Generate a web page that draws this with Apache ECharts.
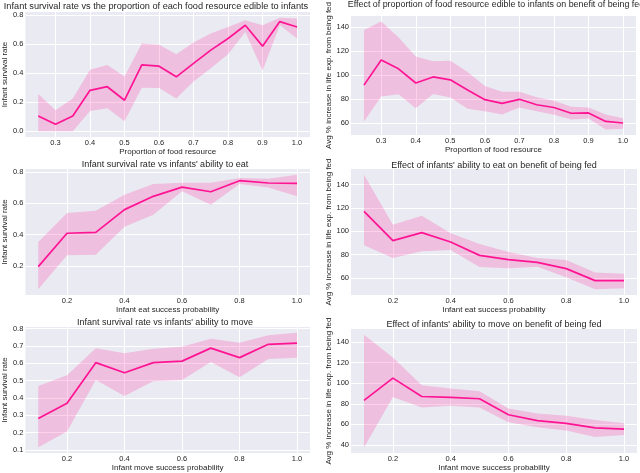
<!DOCTYPE html>
<html>
<head>
    <meta charset="utf-8">
    <script src="https://cdn.jsdelivr.net/npm/echarts@6/dist/echarts.min.js"></script>
    <style>
        html, body { margin: 0; padding: 0; background: #fff; }
    </style>
</head>
<body>
<div id="main" style="width: 640px;height:473px;"></div>
<script>
    // x values
    var foodX = [0.25, 0.3, 0.35, 0.4, 0.45, 0.5, 0.55, 0.6, 0.65, 0.7, 0.75, 0.8, 0.85, 0.9, 0.95, 1.0];
    var probX = [0.1, 0.2, 0.3, 0.4, 0.5, 0.6, 0.7, 0.8, 0.9, 1.0];

    // food resource -> survival
    var foodSurvMean = [0.105, 0.048, 0.105, 0.282, 0.307, 0.214, 0.457, 0.448, 0.375, 0.468, 0.559, 0.639, 0.73, 0.586, 0.755, 0.718];
    var foodSurvLow  = [0.0, 0.0, 0.0, 0.139, 0.159, 0.07, 0.30, 0.298, 0.225, 0.343, 0.434, 0.53, 0.684, 0.418, 0.73, 0.639];
    var foodSurvHigh = [0.257, 0.145, 0.225, 0.423, 0.457, 0.377, 0.605, 0.595, 0.53, 0.611, 0.673, 0.718, 0.764, 0.73, 0.782, 0.777];

    // food resource -> benefit of being fed
    var foodBenMean = [91.5, 112.5, 105.1, 93.3, 98.3, 95.9, 87.5, 79.4, 76.3, 79.7, 75.2, 72.9, 68.1, 68.4, 61.3, 60.0];
    var foodBenLow  = [61.3, 82.0, 83.9, 72.3, 84.1, 81.2, 71.8, 69.7, 67.1, 72.9, 69.7, 66.8, 62.9, 63.7, 54.5, 55.3];
    var foodBenHigh = [137.4, 144.5, 131.3, 115.3, 111.4, 111.7, 102.5, 90.7, 86.0, 86.0, 81.5, 78.6, 73.6, 72.9, 67.1, 63.9];

    // eat probability -> survival
    var eatSurvMean = [0.196, 0.409, 0.415, 0.56, 0.645, 0.704, 0.674, 0.745, 0.73, 0.728];
    var eatSurvLow  = [0.051, 0.268, 0.272, 0.451, 0.528, 0.677, 0.591, 0.723, 0.702, 0.645];
    var eatSurvHigh = [0.353, 0.538, 0.553, 0.655, 0.723, 0.732, 0.732, 0.762, 0.757, 0.783];

    // eat probability -> benefit
    var eatBenMean = [117.1, 92.0, 98.9, 90.9, 79.4, 75.7, 73.4, 68.0, 57.7, 57.7];
    var eatBenLow  = [88.0, 77.1, 82.9, 84.0, 69.4, 68.3, 69.7, 60.6, 50.3, 51.1];
    var eatBenHigh = [148.6, 105.7, 113.4, 98.3, 89.1, 82.3, 77.1, 75.4, 64.6, 63.7];

    // move probability -> survival
    var moveSurvMean = [0.281, 0.369, 0.604, 0.546, 0.604, 0.613, 0.688, 0.633, 0.71, 0.717];
    var moveSurvLow  = [0.115, 0.206, 0.504, 0.412, 0.496, 0.504, 0.608, 0.519, 0.625, 0.633];
    var moveSurvHigh = [0.469, 0.531, 0.688, 0.658, 0.685, 0.696, 0.742, 0.719, 0.762, 0.777];

    // move probability -> benefit
    var moveBenMean = [83.3, 105.0, 87.1, 86.2, 84.9, 69.3, 63.6, 61.0, 56.6, 55.3];
    var moveBenLow  = [37.5, 86.5, 76.3, 78.2, 76.3, 62.0, 57.2, 54.0, 47.6, 49.6];
    var moveBenHigh = [147.3, 125.0, 98.0, 94.8, 92.2, 75.4, 70.6, 68.3, 64.2, 61.0];

    // tick labels
    var foodXTicks = [0.3, 0.4, 0.5, 0.6, 0.7, 0.8, 0.9, 1.0];
    var probXTicks = [0.2, 0.4, 0.6, 0.8, 1.0];
    var survTicksA = [0.0, 0.2, 0.4, 0.6, 0.8];
    var survTicksB = [0.2, 0.4, 0.6, 0.8];
    var survTicksC = [0.1, 0.2, 0.3, 0.4, 0.5, 0.6, 0.7, 0.8];
    var benTicksA = [60, 80, 100, 120, 140];
    var benTicksB = [40, 60, 80, 100, 120, 140];

    var titles = [
        'Infant survival rate vs the proportion of each food resource edible to infants',
        'Effect of proportion of food resource edible to infants on benefit of being fed',
        "Infant survival rate vs infants' ability to eat",
        "Effect of infants' ability to eat on benefit of being fed",
        "Infant survival rate vs infants' ability to move",
        "Effect of infants' ability to move on benefit of being fed"
    ];
    var xNames = ['Proportion of food resource', 'Proportion of food resource',
        'Infant eat success probability', 'Infant eat success probability',
        'Infant move success probability', 'Infant move success probability'];
    var survName = 'Infant survival rate';
    var benName = 'Avg % increase in life exp. from being fed';

    var panels = [
        {x: foodX, mean: foodSurvMean, lo: foodSurvLow, hi: foodSurvHigh, xt: foodXTicks, yt: survTicksA, yn: survName, dec: 1,
         grid: {left: 23, top: 12, width: 287, height: 125}, title: {cx: 156, top: 2, size: 9.2}},
        {x: foodX, mean: foodBenMean, lo: foodBenLow, hi: foodBenHigh, xt: foodXTicks, yt: benTicksA, yn: benName, dec: 0,
         grid: {left: 351, top: 9, width: 285, height: 126}, title: {cx: 496, top: 0, size: 8.9}},
        {x: probX, mean: eatSurvMean, lo: eatSurvLow, hi: eatSurvHigh, xt: probXTicks, yt: survTicksB, yn: survName, dec: 1,
         grid: {left: 21, top: 169, width: 289, height: 126}, title: {cx: 165, top: 160, size: 9}},
        {x: probX, mean: eatBenMean, lo: eatBenLow, hi: eatBenHigh, xt: probXTicks, yt: benTicksA, yn: benName, dec: 0,
         grid: {left: 351, top: 169, width: 286, height: 126}, title: {cx: 494, top: 161, size: 9}},
        {x: probX, mean: moveSurvMean, lo: moveSurvLow, hi: moveSurvHigh, xt: probXTicks, yt: survTicksC, yn: survName, dec: 1,
         grid: {left: 21, top: 327, width: 289, height: 126}, title: {cx: 165, top: 318, size: 9}},
        {x: probX, mean: moveBenMean, lo: moveBenLow, hi: moveBenHigh, xt: probXTicks, yt: benTicksB, yn: benName, dec: 0,
         grid: {left: 351, top: 329, width: 286, height: 127}, title: {cx: 494, top: 320, size: 9}}
    ];

    var font = "'Liberation Sans', Arial, sans-serif";
    var textColor = '#262626';
    var pink = '#FF1493';

    function pairs(xs, ys) {
        return xs.map(function (x, i) { return [x, ys[i]]; });
    }
    // matplotlib-like 5% margin
    function pad(a, b) {
        var m = (b - a) * 0.05;
        return [a - m, b + m];
    }

    // one polygon for the whole confidence band, drawn on the first item
    function bandRenderer(p) {
        return function (params, api) {
            if (params.dataIndex !== 0) return;
            var pts = [];
            var k;
            for (k = 0; k < p.x.length; k++) pts.push(api.coord([p.x[k], p.hi[k]]));
            for (k = p.x.length - 1; k >= 0; k--) pts.push(api.coord([p.x[k], p.lo[k]]));
            return {
                type: 'polygon',
                shape: {points: pts},
                style: {fill: pink, opacity: 0.2}
            };
        };
    }

    var grids = [], xAxes = [], yAxes = [], series = [], titleOpts = [];

    panels.forEach(function (p, i) {
        grids.push({
            left: p.grid.left, top: p.grid.top, width: p.grid.width, height: p.grid.height,
            show: true, backgroundColor: '#EAEAF2', borderWidth: 0
        });
        var xr = pad(p.x[0], p.x[p.x.length - 1]);
        var yr = pad(Math.min.apply(null, p.lo), Math.max.apply(null, p.hi));
        xAxes.push({
            type: 'value', gridIndex: i, min: xr[0], max: xr[1],
            name: xNames[i], nameLocation: 'middle', nameGap: 9,
            nameTextStyle: {fontFamily: font, fontSize: 8, color: textColor},
            axisLine: {show: false},
            axisTick: {show: false, customValues: p.xt},
            axisLabel: {customValues: p.xt, margin: 2, fontFamily: font, fontSize: 7.5, color: textColor,
                formatter: function (v) { return v.toFixed(1); }},
            splitLine: {show: true, lineStyle: {color: '#ffffff', width: 1}}
        });
        yAxes.push({
            type: 'value', gridIndex: i, min: yr[0], max: yr[1],
            name: p.yn, nameLocation: 'middle', nameGap: i % 2 ? 15 : 14,
            nameTextStyle: {fontFamily: font, fontSize: 8, color: textColor},
            axisLine: {show: false},
            axisTick: {show: false, customValues: p.yt},
            axisLabel: {customValues: p.yt, margin: 2, fontFamily: font, fontSize: 7.5, color: textColor,
                formatter: (function (d) { return function (v) { return v.toFixed(d); }; })(p.dec)},
            splitLine: {show: true, lineStyle: {color: '#ffffff', width: 1}}
        });
        titleOpts.push({
            text: titles[i], left: p.title.cx, top: p.title.top, textAlign: 'center', padding: 0,
            textStyle: {fontFamily: font, fontSize: p.title.size, fontWeight: 'normal', color: textColor}
        });
        series.push({
            type: 'custom', xAxisIndex: i, yAxisIndex: i, silent: true,
            renderItem: bandRenderer(p),
            encode: {x: 0, y: [1, 2]},
            data: p.x.map(function (x, k) { return [x, p.lo[k], p.hi[k]]; }),
            z: 1
        });
        series.push({
            type: 'line', xAxisIndex: i, yAxisIndex: i,
            data: pairs(p.x, p.mean), symbol: 'none',
            lineStyle: {color: pink, width: 1.7}, z: 2
        });
    });

    var myChart = echarts.init(document.getElementById('main'));
    myChart.setOption({
        animation: false,
        backgroundColor: '#ffffff',
        title: titleOpts,
        grid: grids,
        xAxis: xAxes,
        yAxis: yAxes,
        series: series
    });
</script>
</body>
</html>
